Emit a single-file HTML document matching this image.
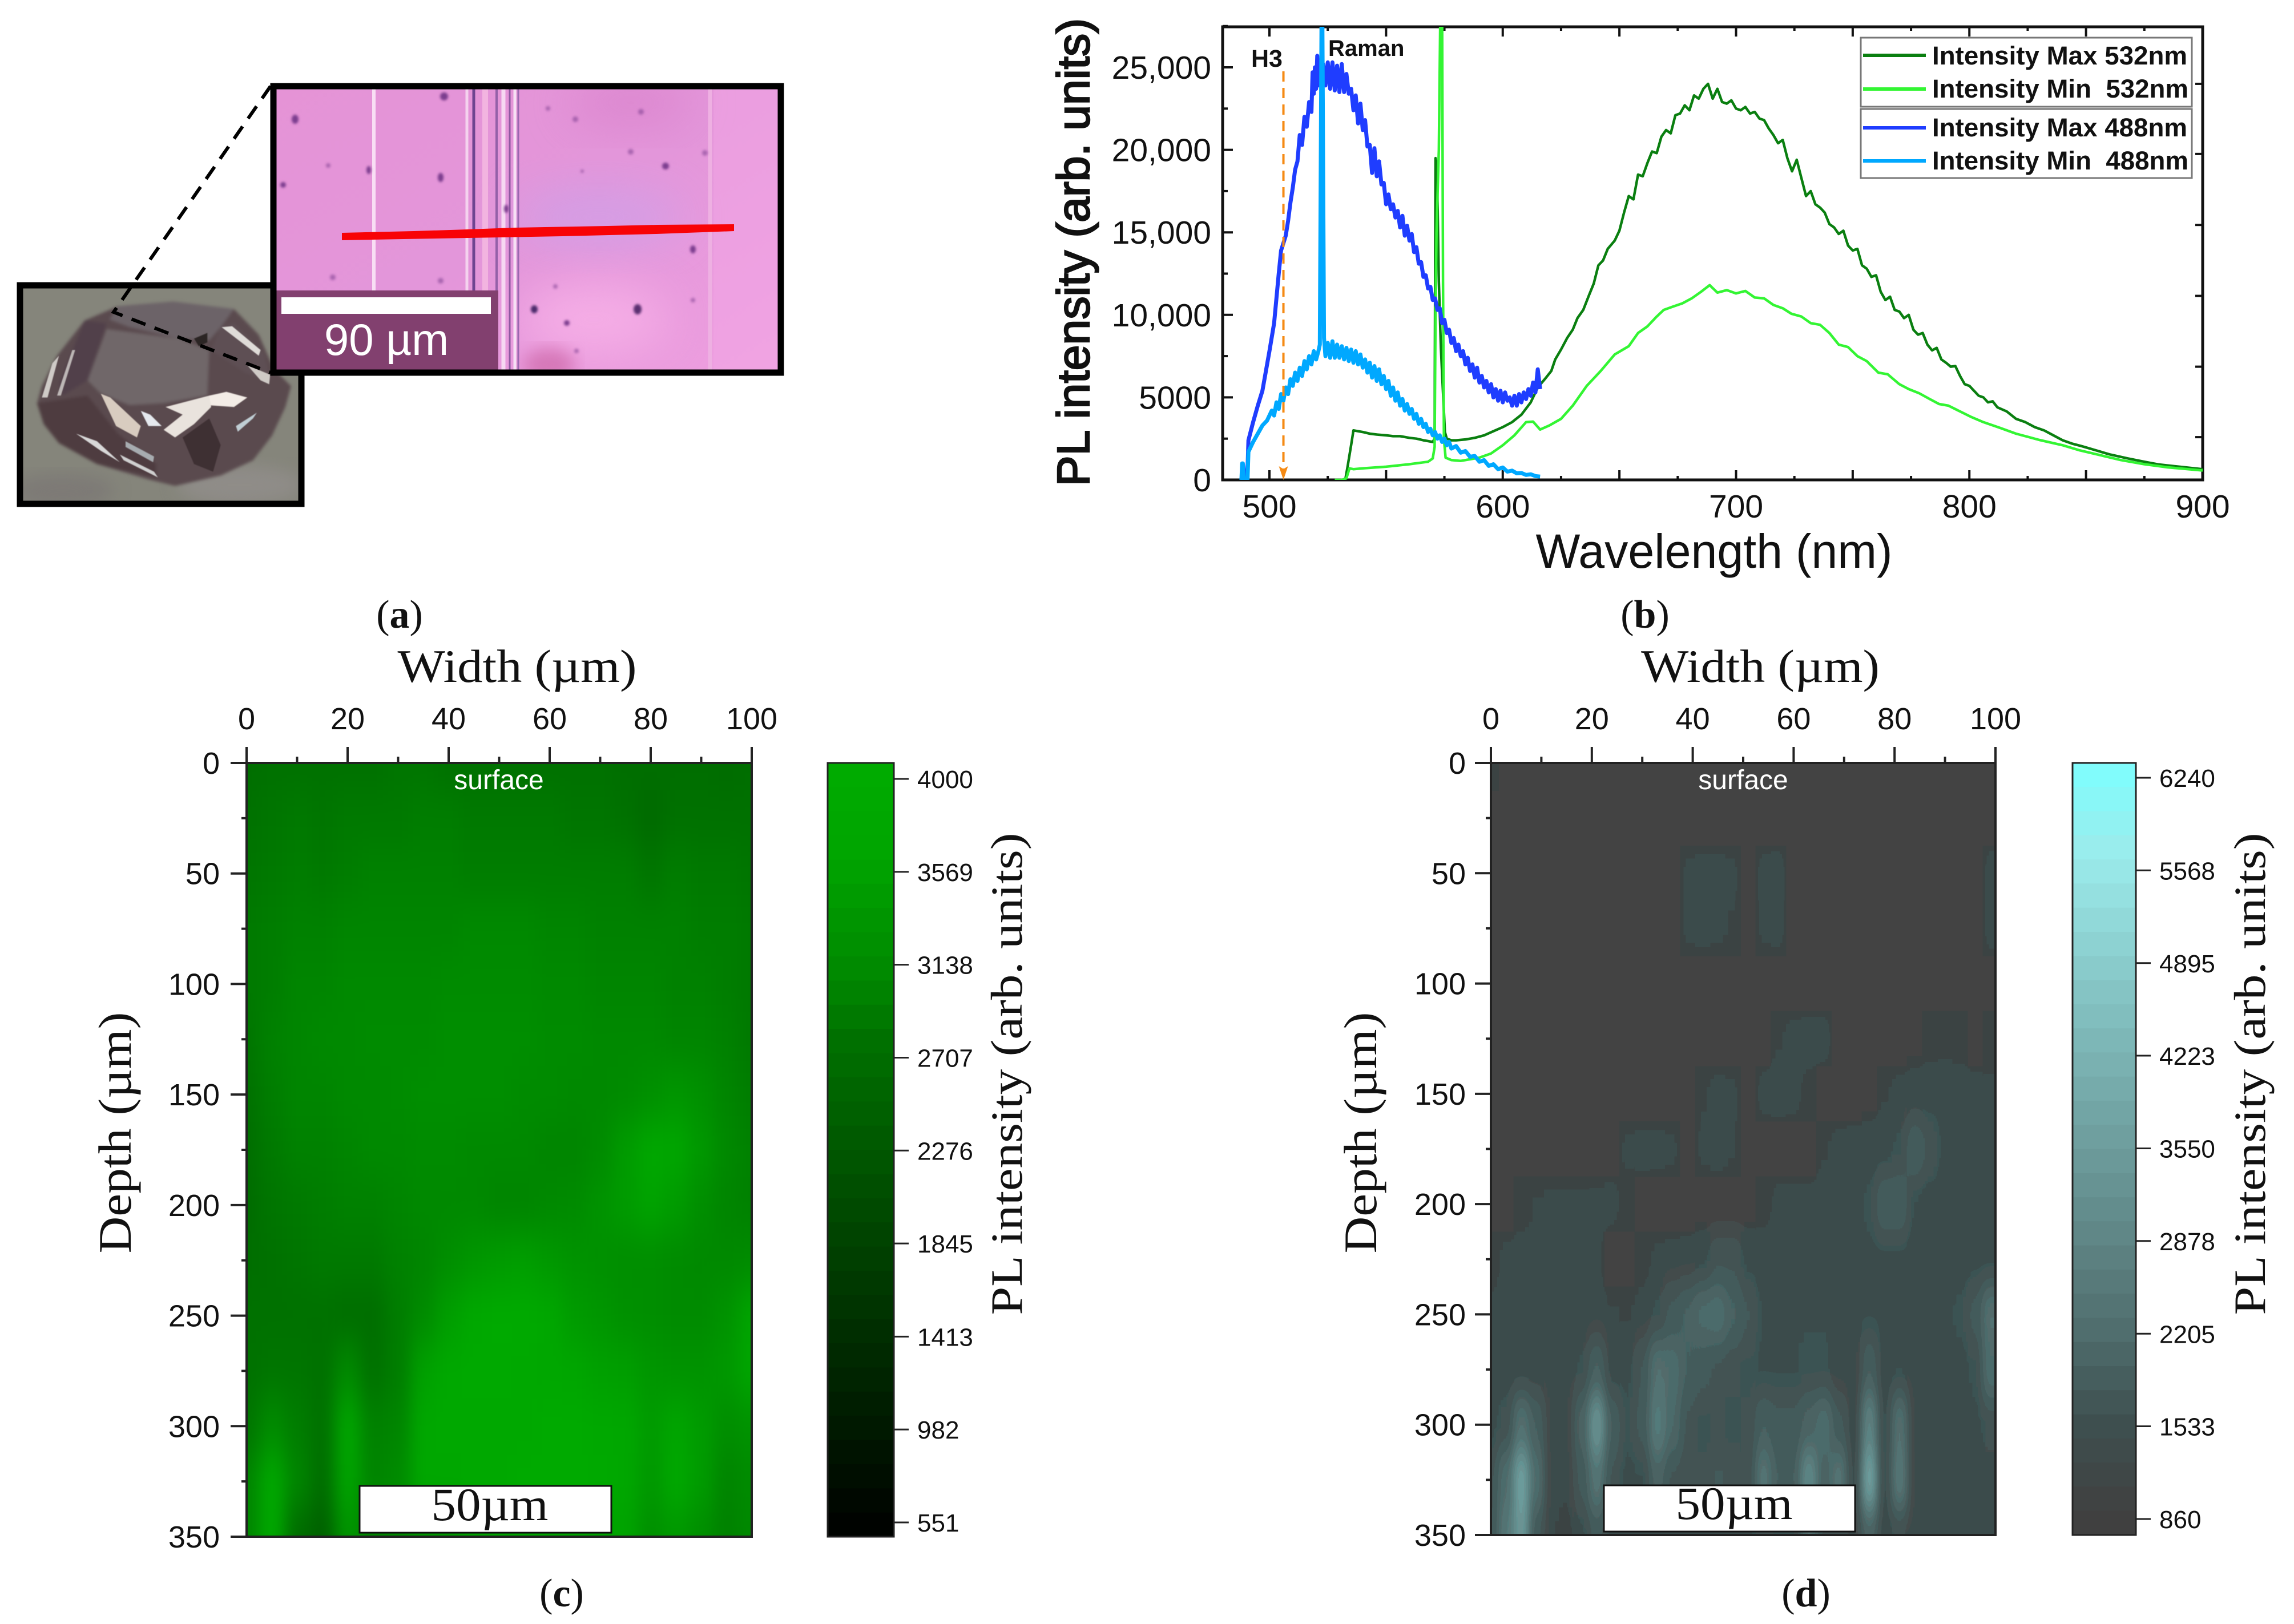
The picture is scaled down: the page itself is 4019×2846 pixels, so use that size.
<!DOCTYPE html>
<html lang="en">
<head>
<meta charset="utf-8">
<title>Diamond photoluminescence figure</title>
<style>
html,body{margin:0;padding:0;background:#fff;width:4019px;height:2846px;overflow:hidden}
svg{display:block}
text{font-family:"Liberation Sans",sans-serif;fill:#111}
.serif{font-family:"Liberation Serif",serif}
</style>
</head>
<body>
<svg id="figure" xmlns="http://www.w3.org/2000/svg" width="4019" height="2846" viewBox="0 0 4019 2846">
<defs>
<clipPath id="clip-b"><rect x="2142" y="47" width="1717" height="794"/></clipPath>
<clipPath id="clip-c"><rect x="432" y="1337" width="885" height="1356"/></clipPath>
<clipPath id="clip-d"><rect x="2612" y="1337" width="884" height="1353"/></clipPath>
<clipPath id="clip-pink"><rect x="478" y="151" width="891" height="502"/></clipPath>
<clipPath id="clip-gem"><rect x="35" y="500" width="495" height="383"/></clipPath>
<filter id="blur-heat-c" x="-10%" y="-10%" width="120%" height="120%" color-interpolation-filters="sRGB"><feGaussianBlur stdDeviation="14 34"/></filter>
<filter id="blur-heat-d" x="-10%" y="-10%" width="120%" height="120%" color-interpolation-filters="sRGB">
  <feGaussianBlur stdDeviation="7 26"/>
  <feComponentTransfer>
    <feFuncR id="posterize-r" type="discrete"/>
    <feFuncG id="posterize-g" type="discrete"/>
    <feFuncB id="posterize-b" type="discrete"/>
  </feComponentTransfer>
</filter>
<filter id="blur-photo" x="-20%" y="-20%" width="140%" height="140%" color-interpolation-filters="sRGB"><feGaussianBlur stdDeviation="14"/></filter>
<filter id="blur-soft" x="-20%" y="-20%" width="140%" height="140%" color-interpolation-filters="sRGB"><feGaussianBlur stdDeviation="2"/></filter>
<filter id="blur-gem" x="-10%" y="-10%" width="120%" height="120%" color-interpolation-filters="sRGB"><feGaussianBlur stdDeviation="8"/></filter>
<filter id="blur-big" x="-50%" y="-50%" width="200%" height="200%" color-interpolation-filters="sRGB"><feGaussianBlur stdDeviation="40"/></filter>
<linearGradient id="pink-bg" x1="0" y1="0" x2="1" y2="1">
<stop offset="0" stop-color="#e593d6"/><stop offset="0.5" stop-color="#e396da"/><stop offset="1" stop-color="#ee9fe0"/>
</linearGradient>
</defs>

<!-- Panel a: microscope image -->
<g id="panel-a">
  <g clip-path="url(#clip-gem)">
    <rect x="30" y="495" width="503" height="393" fill="#85857b"/>
    <ellipse cx="110" cy="860" rx="90" ry="30" fill="#7d7a76" filter="url(#blur-photo)"/>
    <ellipse cx="420" cy="850" rx="110" ry="35" fill="#8f8c88" filter="url(#blur-photo)"/>
    <g transform="translate(20,480) scale(0.3333)" filter="url(#blur-gem)">
      <polygon points="135,680 160,590 240,430 385,245 560,170 850,145 1170,185 1300,320 1380,500 1470,590 1440,700 1370,850 1270,980 1100,1060 860,1115 720,1080 450,1000 250,890 170,790" fill="#5a4a4e"/>
      <polygon points="560,170 850,145 1170,185 1100,280 1040,350 880,340 620,280 515,240" fill="#6c6368"/>
      <polygon points="500,290 880,340 1040,400 1030,640 800,680 620,690 470,630 400,560" fill="#706769"/>
      <polygon points="385,245 500,260 400,560 270,640 250,580" fill="#51404a"/>
      <polygon points="1100,280 1170,260 1330,420 1360,560 1230,520 1050,400" fill="#5e4f54"/>
      <polygon points="135,680 400,640 560,840 760,1000 760,1070 450,1000 250,890 170,790" fill="#4e3c40"/>
      <polygon points="1040,760 1300,720 1440,640 1370,850 1270,980 1100,1060" fill="#5a4a4e"/>
    </g>
    <g transform="translate(20,480) scale(0.3333)" filter="url(#blur-soft)">
      <polygon points="1105,280 1160,275 1310,400 1300,430" fill="#dfdcd8"/>
      <polygon points="1240,480 1360,530 1355,580 1310,560" fill="#cfcac6"/>
      <polygon points="160,650 215,470 250,430 190,650" fill="#cfcbc7"/>
      <polygon points="240,640 320,400 335,400 260,640" fill="#bdb7b6"/>
      <polygon points="1040,640 1130,620 1240,650 1170,700 1030,690" fill="#f3ece6"/>
      <polygon points="810,700 1040,640 1050,700 960,790 860,860 800,820 900,740" fill="#e9e3dd"/>
      <polygon points="680,720 730,740 790,800 720,800" fill="#e5e9ee"/>
      <polygon points="470,630 520,650 680,800 660,860 550,800" fill="#d8ccc0"/>
      <polygon points="340,840 450,880 570,990 470,930" fill="#d8d8d8"/>
      <polygon points="570,950 750,1040 770,1070 590,980" fill="#d0d0d0"/>
      <polygon points="600,880 750,960 745,990 600,910" fill="#a7acb0"/>
      <polygon points="1180,800 1290,730 1270,760 1190,830" fill="#c0ced4"/>
      <polygon points="900,860 1040,760 1100,900 1060,1040 960,1000" fill="#3e3033"/>
      <polygon points="960,340 1030,310 1030,360 985,380" fill="#2b2524"/>
    </g>
  </g>
  <rect x="35" y="500" width="493" height="383" fill="none" stroke="#000" stroke-width="11"/>
  <g clip-path="url(#clip-pink)">
    <rect x="474" y="146" width="898" height="510" fill="url(#pink-bg)"/>
    <ellipse cx="1105" cy="180" rx="110" ry="40" fill="#d67cc8" opacity="0.6" filter="url(#blur-big)"/>
    <ellipse cx="1050" cy="380" rx="150" ry="50" fill="#cfa0e8" opacity="0.8" filter="url(#blur-big)"/>
    <ellipse cx="1040" cy="560" rx="130" ry="60" fill="#f5aee6" filter="url(#blur-big)"/>
    <ellipse cx="962" cy="640" rx="45" ry="30" fill="#d678b8" filter="url(#blur-photo)"/>
    <rect x="1250" y="146" width="120" height="510" fill="#f4a8e6" opacity="0.45"/>
    <g fill="none">
      <line x1="655" y1="150" x2="655" y2="655" stroke="#f8def4" stroke-width="6"/>
      <line x1="818" y1="150" x2="818" y2="510" stroke="#f4d2ee" stroke-width="5"/>
      <line x1="830" y1="150" x2="830" y2="655" stroke="#6e4490" stroke-width="5"/>
      <line x1="850" y1="150" x2="850" y2="655" stroke="#f2b4e0" stroke-width="10"/>
      <line x1="870" y1="150" x2="870" y2="655" stroke="#9460a8" stroke-width="4"/>
      <line x1="882" y1="150" x2="882" y2="655" stroke="#f6d8f2" stroke-width="7"/>
      <line x1="893" y1="150" x2="893" y2="655" stroke="#8d5aa0" stroke-width="3"/>
      <line x1="902" y1="150" x2="902" y2="655" stroke="#f6e0f4" stroke-width="5"/>
      <line x1="908" y1="150" x2="908" y2="655" stroke="#9a68b0" stroke-width="3"/>
      <line x1="1244" y1="150" x2="1244" y2="655" stroke="#eeb0e2" stroke-width="7"/>
    </g>
    <g fill="#7b3d8e" filter="url(#blur-soft)">
      <ellipse cx="778" cy="169" rx="7" ry="7"/><ellipse cx="517" cy="209" rx="6" ry="8"/><ellipse cx="646" cy="298" rx="4" ry="7"/>
      <ellipse cx="772" cy="311" rx="5" ry="8"/><circle cx="496" cy="324" r="5"/><circle cx="1166" cy="291" r="6"/>
      <ellipse cx="1214" cy="437" rx="5" ry="7"/><ellipse cx="936" cy="542" rx="6" ry="7" fill="#4a2a6a"/><ellipse cx="1117" cy="542" rx="7" ry="9" fill="#5a2f70"/><circle cx="993" cy="566" r="5"/>
      <ellipse cx="887" cy="366" rx="4" ry="7"/>
      <g opacity="0.55">
        <circle cx="1008" cy="209" r="5"/><circle cx="1123" cy="196" r="5"/><circle cx="1105" cy="266" r="5"/>
        <circle cx="1235" cy="268" r="5"/><circle cx="772" cy="492" r="5"/><circle cx="583" cy="486" r="5"/>
        <circle cx="973" cy="502" r="4"/><circle cx="1214" cy="526" r="4"/><circle cx="575" cy="290" r="4"/>
        <circle cx="1010" cy="615" r="4"/><circle cx="960" cy="190" r="4"/><circle cx="1020" cy="300" r="3"/>
      </g>
    </g>
    <polygon points="599,408 725,405 820,402 900,399 1065,396 1152,394 1286,393 1286,405 1150,410 985,414 820,417 650,420 599,421" fill="#f80306"/>
    <rect x="483" y="509" width="390" height="146" fill="#82406f"/>
    <rect x="493" y="521" width="367" height="29" fill="#fff"/>
    <text x="677" y="622" font-size="78" text-anchor="middle" style="fill:#fff">90 µm</text>
  </g>
  <rect x="479" y="151" width="889" height="502" fill="none" stroke="#000" stroke-width="11"/>
  <polyline points="474,151 199,547 474,653" fill="none" stroke="#000" stroke-width="6" stroke-dasharray="26 17"/>
  <text class="serif" x="700" y="1100" font-size="70" text-anchor="middle">(<tspan font-weight="bold">a</tspan>)</text>
</g>

<!-- Panel b: spectra -->
<g id="panel-b">
  <rect x="2142" y="47" width="1717" height="794" fill="none" stroke="#111" stroke-width="5"/>
  <g id="b-ticks"></g>
  <g id="b-series" clip-path="url(#clip-b)"></g>
  <g id="b-marker"></g>
  <g>
    <rect x="3260" y="66" width="580" height="121" fill="#fff" stroke="#777" stroke-width="3"/>
    <rect x="3260" y="191" width="580" height="121" fill="#fff" stroke="#777" stroke-width="3"/>
    <line x1="3264" y1="97" x2="3374" y2="97" stroke="#0a7f10" stroke-width="6"/>
    <text x="3385" y="113" font-size="45" font-weight="bold" textLength="447" lengthAdjust="spacingAndGlyphs">Intensity Max 532nm</text>
    <line x1="3264" y1="156" x2="3374" y2="156" stroke="#33f533" stroke-width="6"/>
    <text x="3385" y="171" font-size="45" font-weight="bold" textLength="449" lengthAdjust="spacingAndGlyphs" xml:space="preserve">Intensity Min  532nm</text>
    <line x1="3264" y1="224" x2="3374" y2="224" stroke="#1f3dff" stroke-width="6"/>
    <text x="3385" y="239" font-size="45" font-weight="bold" textLength="447" lengthAdjust="spacingAndGlyphs">Intensity Max 488nm</text>
    <line x1="3264" y1="282" x2="3374" y2="282" stroke="#00a8ff" stroke-width="6"/>
    <text x="3385" y="297" font-size="45" font-weight="bold" textLength="449" lengthAdjust="spacingAndGlyphs" xml:space="preserve">Intensity Min  488nm</text>
  </g>
  <text x="2192" y="117" font-size="43" font-weight="bold">H3</text>
  <text x="2327" y="98" font-size="40" font-weight="bold">Raman</text>
  <text transform="translate(1908,442) rotate(-90)" font-size="80" text-anchor="middle" textLength="820" lengthAdjust="spacingAndGlyphs" stroke="#111" stroke-width="2.5">PL intensity (arb. units)</text>
  <text x="3003" y="995" font-size="84" text-anchor="middle" textLength="625" lengthAdjust="spacingAndGlyphs">Wavelength (nm)</text>
  <text class="serif" x="2882" y="1100" font-size="70" text-anchor="middle">(<tspan font-weight="bold">b</tspan>)</text>
</g>

<!-- Panel c: green map -->
<g id="panel-c">
  <g clip-path="url(#clip-c)"><g id="c-cells" filter="url(#blur-heat-c)"></g></g>
  <g id="c-bar"></g>
  <g id="c-axes"></g>
  <rect x="432" y="1337" width="885" height="1356" fill="none" stroke="#222" stroke-width="4"/>
  <text x="874" y="1383" font-size="48" text-anchor="middle" style="fill:#fff">surface</text>
  <rect x="630" y="2604" width="441" height="82" fill="#fff" stroke="#111" stroke-width="3"/>
  <text class="serif" x="858" y="2664" font-size="82" text-anchor="middle" textLength="205" lengthAdjust="spacingAndGlyphs">50µm</text>
  <text class="serif" x="906" y="1195" font-size="82" text-anchor="middle" textLength="419" lengthAdjust="spacingAndGlyphs">Width (µm)</text>
  <text class="serif" transform="translate(229,1985) rotate(-90)" font-size="82" text-anchor="middle" textLength="423" lengthAdjust="spacingAndGlyphs">Depth (µm)</text>
  <text class="serif" transform="translate(1790,1882) rotate(-90)" font-size="78" text-anchor="middle" textLength="845" lengthAdjust="spacingAndGlyphs">PL intensity (arb. units)</text>
  <text class="serif" x="984" y="2815" font-size="70" text-anchor="middle">(<tspan font-weight="bold">c</tspan>)</text>
</g>

<!-- Panel d: gray-cyan map -->
<g id="panel-d">
  <g clip-path="url(#clip-d)"><g id="d-cells" filter="url(#blur-heat-d)"></g></g>
  <g id="d-bar"></g>
  <g id="d-axes"></g>
  <rect x="2612" y="1337" width="884" height="1353" fill="none" stroke="#222" stroke-width="4"/>
  <text x="3054" y="1383" font-size="48" text-anchor="middle" style="fill:#fff">surface</text>
  <rect x="2810" y="2603" width="440" height="81" fill="#fff" stroke="#111" stroke-width="3"/>
  <text class="serif" x="3038" y="2662" font-size="82" text-anchor="middle" textLength="205" lengthAdjust="spacingAndGlyphs">50µm</text>
  <text class="serif" x="3084" y="1195" font-size="82" text-anchor="middle" textLength="418" lengthAdjust="spacingAndGlyphs">Width (µm)</text>
  <text class="serif" transform="translate(2411,1985) rotate(-90)" font-size="82" text-anchor="middle" textLength="423" lengthAdjust="spacingAndGlyphs">Depth (µm)</text>
  <text class="serif" transform="translate(3968,1882) rotate(-90)" font-size="78" text-anchor="middle" textLength="845" lengthAdjust="spacingAndGlyphs">PL intensity (arb. units)</text>
  <text class="serif" x="3164" y="2815" font-size="70" text-anchor="middle">(<tspan font-weight="bold">d</tspan>)</text>
</g>
</svg>

<script>
// ---------- Panel b data ----------
const spectraXTicks = [500, 600, 700, 800, 900];
const spectraYTicks = [0, 5000, 10000, 15000, 20000, 25000];
const spectraYTickLabels = ['0', '5000', '10,000', '15,000', '20,000', '25,000'];
const spectraRightTicks = [2590, 6860, 11150, 15450, 19750, 24000];
const h3Wavelength = 506;

const wlMax532 = [
 532.5,533.5,535,536,538,540,543,546,550,553,
 556,560,563,566,568,570,570.8,571.2,571.8,572.6,
 573.5,574.5,575.2,576,578,580,584,588,592,596,
 600,604,608,612,615,618,620.8,622.5,625,627.6,
 630,632,634.5,637,639,641,643,645,648,650,
 652,654,656,658,660,662,664,666,668,670,
 672,674,676,678,680,682,684,686,688,690,
 692,694,696,698,700,702,704,706,708,710,
 712,714,716,718,720,722,724,726,728,730,
 732,734,736,738,740,742,744,746,748,750,
 752,754,756,758,760,762,764,766,768,770,
 772,774,776,778,780,782,784,786,788,790,
 792,794,796,798,800,802,804,806,808,810,
 812,816,820,824,828,832,836,840,844,848,
 854,860,868,875,881,890,900];
const intMax532 = [
 0,800,2100,3000,2950,2900,2800,2750,2700,2650,
 2650,2550,2500,2400,2350,2300,2500,19500,19000,12000,
 8000,5000,2900,2500,2400,2400,2450,2550,2700,2950,
 3200,3500,3950,4700,5600,6100,6600,7300,7900,8600,
 9100,9800,10300,11200,11900,13000,13300,14000,14500,15100,
 16200,17200,17000,18500,18400,19200,19900,19800,20800,21200,
 21000,22100,22200,22700,22400,23300,23100,23700,24000,23100,
 23700,22900,22800,23000,22500,22400,22600,22200,22300,21900,
 21800,21300,20900,20400,20600,19500,18700,19400,18300,17200,
 17500,16700,16500,16200,15500,15300,14900,15100,14200,13900,
 14000,13000,12800,12300,12400,11400,10900,11100,10300,10200,
 9800,10000,9100,8800,8900,8200,7850,8000,7300,7100,
 6860,6900,6300,5800,5700,5400,5100,5000,4700,4760,
 4400,4150,3700,3500,3200,3000,2700,2400,2200,2050,
 1800,1550,1300,1100,940,800,650];

const wlMin532 = [
 528,531,533,534.3,536,540,550,560,568,570,
 570.8,571.2,571.6,572.6,573.3,574,574.4,574.8,575.5,578,
 582,590,595,600,605,610,613,616,620,625,
 630,636,642,648,654,658,662,666,669,673,
 677,681,685,688.7,692,696,700,704,708,712,
 716,720,723.7,728,732,736,740,744,748,752,
 756,761,765,770,774,778.5,783,787,791,796,
 801,806,813,820,830,840,847,856,865,875,
 885,900];
const intMin532 = [
 0,0,100,700,650,700,800,950,1100,1300,
 2000,10000,15000,20000,29000,29000,12000,2500,1350,1200,
 1150,1350,1600,2100,2700,3500,3530,3050,3300,3700,
 4500,5700,6600,7600,8100,8900,9300,9900,10300,10500,
 10700,11000,11400,11800,11350,11500,11300,11450,11050,11000,
 10600,10400,10070,9900,9500,9400,8900,8200,8050,7500,
 7200,6500,6400,5800,5500,5250,4900,4600,4500,4150,
 3800,3500,3160,2800,2420,2100,1800,1500,1200,950,
 760,570];

const wlMax488 = [
 490,490.7,491,493,495,497,500,502,504,505,
 507,508,509,510,511,512,513,514,515,516,
 517,518,518.5,519,519.5,520,520.5,521,521.5,522,
 523,524,525,526,527,528,529,530,531,532,
 533,534,535,536,537,538,539,540,541,542,
 543,544,545,546,547,548,549,550,551,552,
 553,554,555,556,557,558,559,560,561,562,
 563,564,565,566,567,568,569,570,571,572,
 573,574,575,576,577,578,579,580,581,582,
 583,584,585,586,587,588,589,590,591,592,
 593,594,595,596,597,598,599,600,601,602,
 603,604,605,606,607,608,609,610,611,612,
 613,614,615,616];
const intMax488 = [
 0,1000,2400,3500,4500,5400,7800,9500,12500,13900,
 14800,15700,16800,17700,18800,19300,20900,20300,22000,21400,
 22900,22300,24700,23400,25000,23700,25700,23900,25300,24000,
 25200,23900,25300,23700,25300,23600,25100,23500,25200,23500,
 24600,23400,23700,22400,23300,21600,22800,21200,21800,20200,
 20300,18600,20100,18400,19300,17900,18000,16700,17300,16400,
 16700,15900,16300,15300,16000,14800,15400,14500,14900,13800,
 14100,13100,13200,12300,12400,11600,11700,10900,11000,10300,
 10400,9500,9700,8900,9100,8300,8600,7800,8200,7500,
 7800,7000,7400,6600,7000,6200,6800,5900,6300,5600,
 6000,5300,5800,5000,5500,4800,5400,4700,5300,4800,
 5000,4500,5100,4500,5200,4700,5300,4900,5500,5100,
 5900,5300,6700,5500];

const wlMin488 = [
 488,488.3,488.6,489,490.6,491,493,495,497,499,
 501,502,503,504,505,506,507,508,509,510,
 511,512,513,514,515,516,517,518,519,520,
 521,521.6,522.3,522.5,522.7,523.4,524,525,526,527,
 528,529,530,531,532,533,534,535,536,537,
 538,539,540,541,542,543,544,545,546,547,
 548,549,550,551,552,553,554,555,556,557,
 558,559,560,561,562,563,564,565,566,567,
 568,569,570,571,572,573,574,575,576,577,
 578,580,582,584,586,588,590,592,594,596,
 598,600,602,604,606,608,610,612,614,616];
const intMin488 = [
 0,1000,1000,0,0,1700,2300,2800,3300,3600,
 4200,3900,4700,4300,5200,4800,5600,5200,6100,5700,
 6500,6000,6800,6300,7200,6700,7500,7000,7800,7300,
 7800,8200,27500,28500,27500,8600,7500,8300,7400,8400,
 7400,8200,7400,8100,7300,8000,7200,7900,7100,7800,
 7000,7600,6800,7300,6500,7100,6200,6900,6000,6700,
 5800,6300,5500,6000,5100,5600,4800,5300,4500,4900,
 4200,4600,4000,4300,3700,4000,3400,3700,3200,3400,
 2900,3100,2700,2900,2500,2700,2300,2500,2100,2300,
 1900,2050,1650,1750,1400,1450,1100,1200,850,950,
 650,750,500,560,400,420,300,340,230,200];

// ---------- Panel c data ----------
const mapCWidthValues = [0,5,10,15,20,25,30,35,40,45,50,55,60,65,70,75,80,85,90,95,100];
const mapCDepthValues = [0,25,50,75,100,125,150,175,200,225,250,275,300,325,350];
const mapCIntensity = [
 [2750,2800,2800,2800,2800,2800,2850,2850,2800,2800,2800,2800,2800,2800,2800,2750,2750,2750,2750,2700,2750],
 [2800,2850,2900,2850,2900,2900,2900,2950,2950,2900,2900,2900,2900,2850,2850,2800,2650,2800,2800,2800,2800],
 [2850,2900,2950,2900,2950,3000,3000,3000,3000,2950,2950,2950,2950,2950,2950,2950,2850,2950,2900,2900,2850],
 [2900,2950,3000,3000,3050,3050,3050,3050,3050,3100,3100,3100,3050,3050,3000,3000,3000,3000,2950,2950,2900],
 [2900,2950,3050,3050,3100,3100,3100,3100,3150,3150,3150,3150,3100,3100,3050,3050,3050,3000,3000,2950,2900],
 [2850,3000,3050,3100,3100,3150,3150,3150,3200,3200,3200,3200,3150,3150,3100,3100,3100,3050,3050,3000,2900],
 [2800,2950,3050,3050,3100,3100,3150,3200,3200,3200,3200,3150,3150,3100,3100,3150,3250,3350,3250,3050,2950],
 [2750,2900,3000,3000,3050,3100,3100,3150,3150,3100,3100,3100,3050,3050,3150,3450,3750,3700,3400,3100,3000],
 [2700,2850,2900,2950,3000,3000,3050,3100,3100,3100,3050,3050,3100,3150,3300,3450,3600,3450,3200,3050,3000],
 [2750,2800,2850,2900,2900,2900,3000,3050,3200,3350,3450,3500,3400,3300,3250,3200,3200,3150,3100,3100,3150],
 [2800,2800,2800,2800,2750,2750,2950,3150,3500,3800,3950,3950,3750,3450,3350,3250,3200,3150,3150,3300,3650],
 [2800,2850,2850,2800,3100,2800,2950,3550,3850,3900,3900,3800,3750,3700,3550,3500,3350,3300,3300,3400,3700],
 [2850,3150,2950,2800,3650,3000,3050,3750,3850,3800,3800,3850,3950,3950,3800,3750,3450,3650,3450,3200,3300],
 [3050,3850,3050,2750,3600,3050,3150,3750,3750,3800,3850,3950,3950,3950,3900,3750,3400,3800,3450,3050,3150],
 [3050,3800,2700,2450,3300,3050,3150,3350,3400,3600,3650,3700,3700,3700,3600,3600,3250,3400,3200,3000,3100]
];
const mapCColorbarTicks = [4000,3569,3138,2707,2276,1845,1413,982,551];

// ---------- Panel d data ----------
const mapDWidthValues = [0,3,6,9,12,15,18,21,24,27,30,33,36,39,42,45,48,51,54,57,60,63,66,69,72,75,78,81,84,87,90,93,96,99];
const mapDDepthValues = [0,25,50,75,100,125,150,175,200,225,250,275,300,325,350];
const mapDIntensity = [
 [1150,900,900,900,900,900,900,900,900,900,900,900,900,900,900,900,900,900,900,900,900,900,900,900,900,900,900,900,900,900,900,900,900,900],
 [900,900,900,900,900,900,900,900,900,900,900,900,900,900,900,900,900,900,900,900,900,900,900,900,900,900,900,900,900,900,900,900,900,1000],
 [900,900,900,900,900,900,900,900,900,900,900,900,900,1250,1300,1300,1250,900,1300,1350,900,900,900,900,900,900,900,900,900,900,900,900,900,1300],
 [900,900,900,900,900,900,900,900,900,900,900,900,900,1250,1300,1250,1150,900,1250,1300,900,900,900,900,900,900,900,900,900,900,900,900,900,1300],
 [900,900,900,900,900,900,900,900,900,900,900,900,900,900,900,900,900,900,900,900,900,900,900,900,900,900,900,900,900,900,900,900,900,950],
 [900,900,900,900,900,900,900,900,900,900,900,900,900,900,900,900,900,900,1000,1150,1300,1350,1350,950,900,900,900,900,950,1050,1100,1050,1000,1050],
 [900,900,900,900,900,900,900,900,900,900,900,900,900,900,1150,1300,1250,900,1300,1350,1300,1100,950,950,950,1000,1150,1300,1400,1450,1450,1400,1300,1250],
 [900,900,900,900,900,900,900,950,1000,1250,1300,1300,1250,950,1250,1300,1200,900,950,950,950,950,1150,1300,1350,1400,1450,1600,1900,1700,1500,1400,1300,1250],
 [950,1000,1100,1200,1250,1250,1250,1250,1300,1050,1000,950,950,950,950,1000,1000,1000,1050,1300,1300,1300,1350,1350,1400,1600,1900,1900,1550,1400,1350,1300,1300,1300],
 [1100,1250,1300,1250,1300,1400,1300,1250,950,950,1100,1250,1300,1350,1500,1700,1700,1500,1450,1450,1500,1500,1500,1500,1500,1500,1500,1500,1450,1400,1300,1400,1500,1500],
 [1250,1300,1350,1300,1250,1200,1250,1300,1200,1150,1300,1600,1800,1950,2150,2200,1950,1750,1550,1550,1550,1550,1550,1550,1500,1550,1550,1550,1500,1350,1500,1600,1800,2300],
 [1350,1400,1450,1400,1300,1300,1600,1950,1450,1500,1750,2300,2200,1900,1800,1700,1650,1600,1550,1550,1550,1600,1600,1300,1300,1900,1400,1550,1300,1300,1300,1450,1600,2200],
 [1500,1650,2300,1900,1350,1350,2000,3300,1900,1600,1800,2600,2100,1700,1600,1650,1600,1650,1900,1800,1800,2000,2200,1800,1400,2800,1500,2300,1350,1250,1250,1300,1500,1650],
 [1700,2200,3600,2200,1300,1250,1800,2400,1700,1500,1550,2000,1700,1650,1650,1750,1700,1650,2400,1900,1900,3000,2000,2400,1450,3600,1500,2500,1300,1250,1250,1250,1300,1350],
 [1700,2500,3400,1800,1200,1100,1500,1800,1500,1400,1400,1500,1500,1500,1500,1550,1500,1500,1700,1600,1600,2300,1700,1700,1350,2000,1400,1600,1250,1200,1200,1200,1200,1300]
];
const mapDColorbarTicks = [6240,5568,4895,4223,3550,2878,2205,1533,860];

const mapXTicks = [0,20,40,60,80,100];
const mapXMinorTicks = [10,30,50,70,90];
const mapYTicks = [0,50,100,150,200,250,300,350];
const mapYMinorTicks = [25,75,125,175,225,275,325];

// ---------- Axis functions ----------
const NS = 'http://www.w3.org/2000/svg';
const xSpec = v => 2224 + (v - 500) * 4.0875;
const ySpec = v => 841 - v * 0.02892;
const xMapC = v => 432 + v * 8.85;
const yMapC = v => 1337 + v * (1356 / 350);
const xMapD = v => 2612 + v * 8.84;
const yMapD = v => 1337 + v * (1353 / 350);
const yBarC = v => 1365 + (4000 - v) * (1303 / 3449);
const yBarD = v => 1363 + (6240 - v) * (1299 / 5380);

function lerpStops(stops, t) {
  t = Math.max(0, Math.min(1, t));
  for (let i = 1; i < stops.length; i++) {
    if (t <= stops[i][0]) {
      const a = stops[i - 1], b = stops[i];
      const f = (t - a[0]) / (b[0] - a[0]);
      return 'rgb(' + [1, 2, 3].map(k => Math.round(a[k] + (b[k] - a[k]) * f)).join(',') + ')';
    }
  }
  const last = stops[stops.length - 1];
  return 'rgb(' + last[1] + ',' + last[2] + ',' + last[3] + ')';
}
const stopsC = [[0,0,0,0],[0.64,0,112,0],[0.72,0,135,0],[0.88,0,165,0],[1,0,172,0]];
const stopsD = [[0,64,64,64],[0.13,62,80,80],[0.25,80,110,110],[0.38,96,135,135],[0.5,110,158,158],[0.63,125,182,182],[0.75,140,208,208],[0.88,155,236,236],[1,125,255,255]];
const colorC = v => lerpStops(stopsC, (v - 485) / (4074 - 485));
const colorD = v => lerpStops(stopsD, (v - 860) / (6348 - 860));

// Posterize table for map d (the reference map shows stepped bands)
const posterizeTable = Array.from({ length: 32 }, (_, k) => ((k + 0.5) / 32).toFixed(4)).join(' ');
['posterize-r', 'posterize-g', 'posterize-b'].forEach(id => document.getElementById(id).setAttribute('tableValues', posterizeTable));

function mk(tag, attrs, parent) {
  const el = document.createElementNS(NS, tag);
  for (const k in attrs) el.setAttribute(k, attrs[k]);
  parent.appendChild(el);
  return el;
}
function label(parent, x, y, str, size, anchor) {
  const t = mk('text', { x: x, y: y, 'font-size': size, 'text-anchor': anchor }, parent);
  t.textContent = str;
  return t;
}

// ---------- Panel b drawing ----------
const bTicks = document.getElementById('b-ticks');
for (let v = 500; v < 900; v += 25) {
  const len = v % 50 === 0 ? 17 : 7;
  const top = mk('line', { x1: xSpec(v), x2: xSpec(v), y1: 47, y2: 47 + len, stroke: '#111', 'stroke-width': 4 }, bTicks);
  
  
  const bot = mk('line', { x1: xSpec(v), x2: xSpec(v), y1: 841, y2: 841 - len, stroke: '#111', 'stroke-width': 4 }, bTicks);
  
  
}
for (let v = 2500; v <= 27500; v += 2500) {
  const len = v % 5000 === 0 ? 18 : 9;
  const tk = mk('line', { x1: 2142, x2: 2142 + len, y1: ySpec(v), y2: ySpec(v), stroke: '#111', 'stroke-width': 4 }, bTicks);
  
  
}
spectraRightTicks.forEach(v => {
  const tk = mk('line', { x1: 3859, x2: 3846, y1: ySpec(v), y2: ySpec(v), stroke: '#111', 'stroke-width': 4 }, bTicks);
  
  
});
spectraXTicks.forEach(v => {
  const t = label(bTicks, xSpec(v), 907, String(v), 57, 'middle');
  
  
});
spectraYTicks.forEach((v, i) => {
  const t = label(bTicks, 2122, ySpec(v) + 20, spectraYTickLabels[i], 57, 'end');
  
  
});

function linePoints(xs, ys) {
  return xs.map((x, i) => xSpec(x).toFixed(1) + ',' + ySpec(ys[i]).toFixed(1)).join(' ');
}
const bSeries = document.getElementById('b-series');
const lineMax532 = mk('polyline', { points: linePoints(wlMax532, intMax532), fill: 'none', stroke: '#0a7f10', 'stroke-width': 4.5, 'stroke-linejoin': 'round' }, bSeries);


const lineMin532 = mk('polyline', { points: linePoints(wlMin532, intMin532), fill: 'none', stroke: '#33f533', 'stroke-width': 4.5, 'stroke-linejoin': 'round' }, bSeries);


const lineMax488 = mk('polyline', { points: linePoints(wlMax488, intMax488), fill: 'none', stroke: '#1f3dff', 'stroke-width': 7, 'stroke-linejoin': 'round' }, bSeries);


const lineMin488 = mk('polyline', { points: linePoints(wlMin488, intMin488), fill: 'none', stroke: '#00a8ff', 'stroke-width': 7, 'stroke-linejoin': 'round' }, bSeries);



const bMarker = document.getElementById('b-marker');
const h3Line = mk('line', { x1: xSpec(h3Wavelength), x2: xSpec(h3Wavelength), y1: 125, y2: 825, stroke: '#f58a14', 'stroke-width': 4, 'stroke-dasharray': '18 11' }, bMarker);


const h3Head = mk('polygon', { points: [xSpec(h3Wavelength) - 8, 817, xSpec(h3Wavelength), 822, xSpec(h3Wavelength) + 8, 817, xSpec(h3Wavelength), 841].join(','), fill: '#f58a14' }, bMarker);



// ---------- Heat-map drawing ----------
function drawCells(parent, xsVals, ysVals, grid, xf, yf, colorOf, left, right, top, bottom) {
  ysVals.forEach((d, r) => {
    const yA = r === 0 ? top - 120 : (yf(ysVals[r - 1]) + yf(d)) / 2;
    const yB = r === ysVals.length - 1 ? bottom + 120 : (yf(d) + yf(ysVals[r + 1])) / 2;
    xsVals.forEach((w, c) => {
      const xA = c === 0 ? left - 120 : (xf(xsVals[c - 1]) + xf(w)) / 2;
      const xB = c === xsVals.length - 1 ? right + 120 : (xf(w) + xf(xsVals[c + 1])) / 2;
      const cell = mk('rect', { x: xA.toFixed(1), y: yA.toFixed(1), width: (xB - xA + 0.5).toFixed(1), height: (yB - yA + 0.5).toFixed(1), fill: colorOf(grid[r][c]) }, parent);
      
      
    });
  });
}
drawCells(document.getElementById('c-cells'), mapCWidthValues, mapCDepthValues, mapCIntensity, xMapC, yMapC, colorC, 432, 1317, 1337, 2693);
drawCells(document.getElementById('d-cells'), mapDWidthValues, mapDDepthValues, mapDIntensity, xMapD, yMapD, colorD, 2612, 3496, 1337, 2690);

function drawAxes(parent, xf, yf, labelRight) {
  mapXTicks.forEach(v => {
    const tk = mk('line', { x1: xf(v), x2: xf(v), y1: 1337, y2: 1309, stroke: '#222', 'stroke-width': 4 }, parent);
    
    
    const t = label(parent, xf(v), 1278, String(v), 54, 'middle');
    
    
  });
  mapXMinorTicks.forEach(v => {
    const tk = mk('line', { x1: xf(v), x2: xf(v), y1: 1337, y2: 1326, stroke: '#222', 'stroke-width': 4 }, parent);
    
    
  });
  mapYTicks.forEach(v => {
    const x0 = xf(0);
    const tk = mk('line', { x1: x0, x2: x0 - 28, y1: yf(v), y2: yf(v), stroke: '#222', 'stroke-width': 4 }, parent);
    
    
    const t = label(parent, labelRight, yf(v) + 19, String(v), 54, 'end');
    
    
  });
  mapYMinorTicks.forEach(v => {
    const x0 = xf(0);
    const tk = mk('line', { x1: x0, x2: x0 - 9, y1: yf(v), y2: yf(v), stroke: '#222', 'stroke-width': 4 }, parent);
    
    
  });
}
drawAxes(document.getElementById('c-axes'), xMapC, yMapC, 385);
drawAxes(document.getElementById('d-axes'), xMapD, yMapD, 2568);

function drawBar(parent, x, w, top, bottom, yf, colorOf, ticks, labelX) {
  const hi = ticks[0], lo = ticks[ticks.length - 1];
  const perPx = (hi - lo) / (yf(lo) - yf(hi));
  const vTop = hi + (yf(hi) - top) * perPx;
  const vBot = lo - (bottom - yf(lo)) * perPx;
  const bands = 32;
  for (let i = 0; i < bands; i++) {
    const a = top + (bottom - top) * i / bands;
    const b = top + (bottom - top) * (i + 1) / bands;
    const v = vTop + (vBot - vTop) * (i + 0.5) / bands;
    const band = mk('rect', { x: x, y: a.toFixed(1), width: w, height: (b - a + 0.6).toFixed(1), fill: colorOf(v) }, parent);
    
    
  }
  const frame = mk('rect', { x: x, y: top, width: w, height: bottom - top, fill: 'none', stroke: '#222', 'stroke-width': 3 }, parent);
  
  
  ticks.forEach(v => {
    const tk = mk('line', { x1: x + w, x2: x + w + 26, y1: yf(v), y2: yf(v), stroke: '#222', 'stroke-width': 3 }, parent);
    
    
    const t = label(parent, labelX, yf(v) + 16, String(v), 44, 'start');
    
    
  });
}
drawBar(document.getElementById('c-bar'), 1450, 116, 1337, 2693, yBarC, colorC, mapCColorbarTicks, 1607);
drawBar(document.getElementById('d-bar'), 3631, 111, 1337, 2690, yBarD, colorD, mapDColorbarTicks, 3783);
</script>
</body>
</html>
